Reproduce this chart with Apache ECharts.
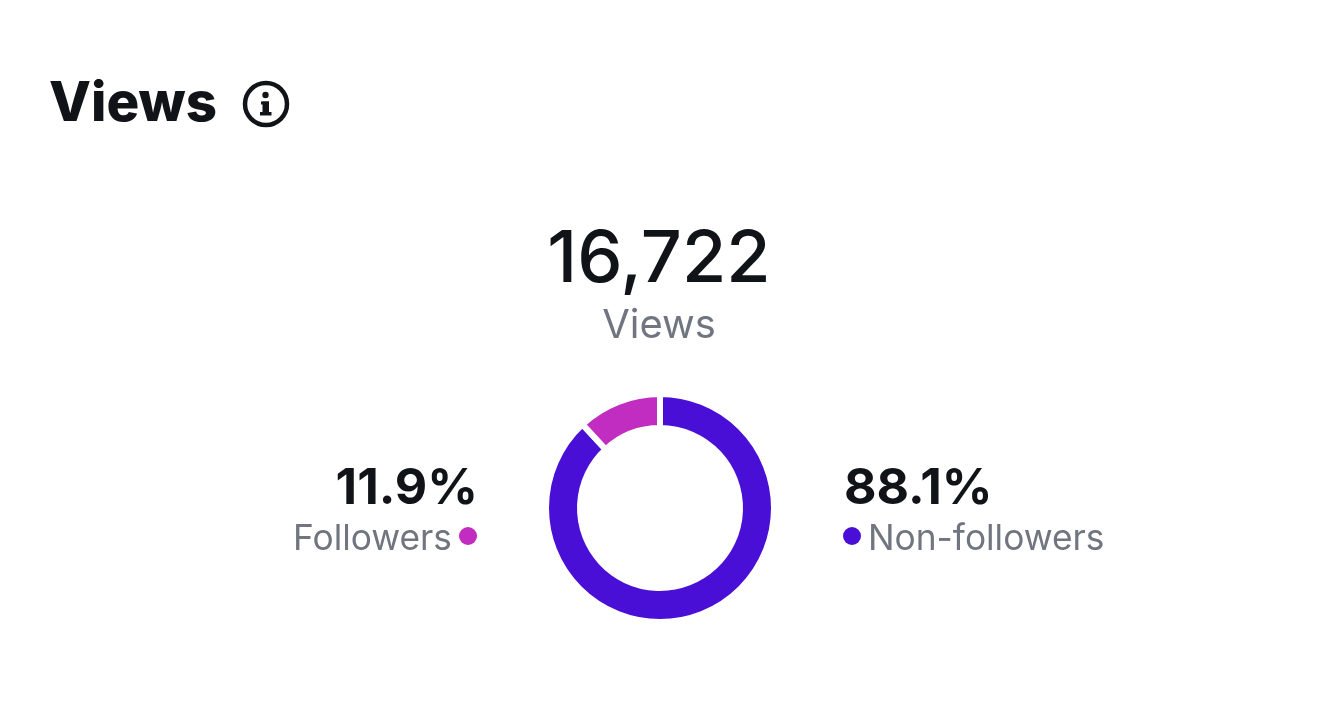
<!DOCTYPE html>
<html>
<head>
<meta charset="utf-8">
<title>Views</title>
<style>
  html, body { margin: 0; padding: 0; background: #fff; }
  #chart { width: 1319px; height: 708px; }
</style>
<script src="https://cdn.jsdelivr.net/npm/echarts@6/dist/echarts.min.js"></script>
</head>
<body>
<div id="chart"></div>
<script>
var categories = ['Non-followers', 'Followers'];
var shares = [88.1, 11.9];
var sliceColors = ['#4a0fd6', '#c02dc0'];
var totalViews = '16,722';
var titleText = 'Views';
var subText = 'Views';

var font = 'Inter, "Noto Sans", sans-serif';
var dark = '#101418';
var grey = '#70757f';
var chart = echarts.init(document.getElementById('chart'));

chart.setOption({
    animation: false,
    graphic: [
        { type: 'text', x: 49, y: 105, style: { text: titleText, font: '800 54.6px ' + font, fill: dark, verticalAlign: 'middle' } },
        // info icon
        { type: 'circle', shape: { cx: 266, cy: 104, r: 21 }, style: { fill: 'none', stroke: dark, lineWidth: 4.5 } },
        { type: 'circle', shape: { cx: 265.5, cy: 95, r: 3.2 }, style: { fill: dark } },
        { type: 'rect', shape: { x: 261, y: 101.5, width: 8, height: 3 }, style: { fill: dark } },
        { type: 'rect', shape: { x: 262.5, y: 101.5, width: 6.5, height: 12 }, style: { fill: dark } },
        { type: 'rect', shape: { x: 260, y: 112, width: 11.5, height: 3.5 }, style: { fill: dark } },

        { type: 'text', x: 659, y: 260, style: { text: totalViews, font: '500 72px ' + font, fill: dark, align: 'center', verticalAlign: 'middle' } },
        { type: 'text', x: 659, y: 326, style: { text: subText, font: '400 40px ' + font, fill: grey, align: 'center', verticalAlign: 'middle' } },
        { type: 'text', x: 478, y: 489, style: { text: shares[1] + '%', font: '700 50px ' + font, fill: dark, align: 'right', verticalAlign: 'middle' } },
        { type: 'text', x: 452, y: 539, style: { text: categories[1], font: '400 35.3px ' + font, fill: grey, align: 'right', verticalAlign: 'middle' } },
        { type: 'circle', shape: { cx: 468, cy: 536, r: 9 }, style: { fill: sliceColors[1] } },
        { type: 'text', x: 844, y: 489, style: { text: shares[0] + '%', font: '700 50px ' + font, fill: dark, align: 'left', verticalAlign: 'middle' } },
        { type: 'circle', shape: { cx: 852, cy: 536, r: 9 }, style: { fill: sliceColors[0] } },
        { type: 'text', x: 868, y: 539, style: { text: categories[0], font: '400 35.3px ' + font, fill: grey, align: 'left', verticalAlign: 'middle' } }
    ],
    series: [{
        type: 'pie',
        center: [660, 508],
        radius: [80, 114],
        startAngle: 90,
        silent: true,
        label: { show: false },
        labelLine: { show: false },
        itemStyle: { borderColor: '#fff', borderWidth: 6 },
        data: categories.map(function (name, i) {
            return { name: name, value: shares[i], itemStyle: { color: sliceColors[i] } };
        })
    }]
});
</script>
</body>
</html>
